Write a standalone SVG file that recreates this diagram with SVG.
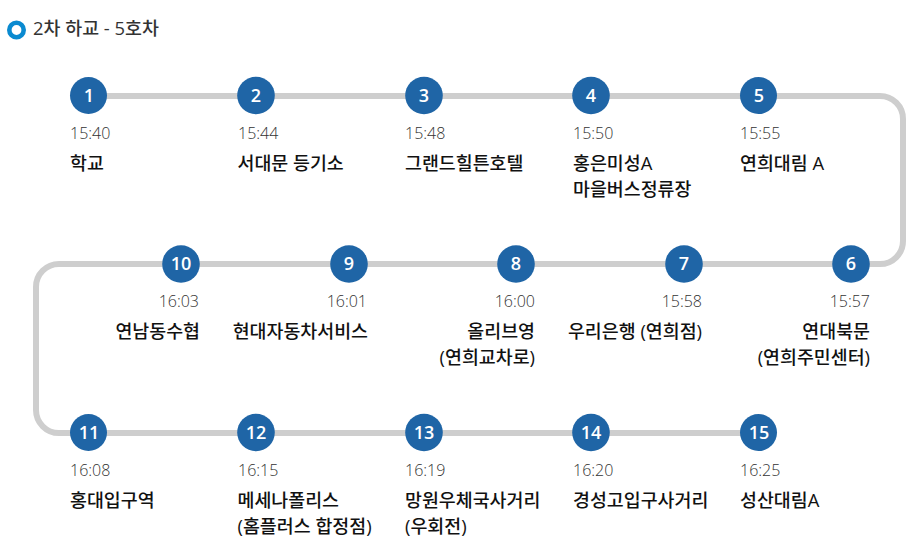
<svg xmlns="http://www.w3.org/2000/svg" width="920" height="551" viewBox="0 0 920 551">
<style>
text{font-family:"Open Sans","Noto Sans CJK KR",sans-serif}
.c{fill:#1f65a6}
.n{fill:#fff;font-size:18px;font-weight:600;text-anchor:middle}
.t{fill:#333;font-size:16px;font-weight:300}
.s{fill:#111;font-size:18.4px;font-weight:500}
.e{text-anchor:end}
</style>
<rect width="920" height="551" fill="#fff"/>
<g id="title"><circle cx="16.5" cy="30" r="7.2" fill="#fff" stroke="#0a8ad0" stroke-width="4.6"/><text x="33" y="35" style="fill:#333;font-size:18.4px;font-weight:500">2차 하교 - 5호차</text></g>
<g id="connectors"><path d="M89 96H880A23 23 0 0 1 903 119V241A23 23 0 0 1 880 264H59A23 23 0 0 0 36 287V410A23 23 0 0 0 59 433H759" fill="none" stroke="#cecece" stroke-width="6"/></g>
<g id="n1"><circle class="c" cx="88.5" cy="95.5" r="18.5"/><text class="n" x="89" y="102">1</text><text class="t" x="70" y="139">15:40</text><text class="s" x="70" y="170">학교</text></g>
<g id="n2"><circle class="c" cx="256" cy="95.5" r="18.8"/><text class="n" x="256" y="102">2</text><text class="t" x="238" y="139">15:44</text><text class="s" x="237.5" y="170">서대문 등기소</text></g>
<g id="n3"><circle class="c" cx="424" cy="95.5" r="18.8"/><text class="n" x="424" y="102">3</text><text class="t" x="405" y="139">15:48</text><text class="s" x="405" y="170">그랜드힐튼호텔</text></g>
<g id="n4"><circle class="c" cx="591" cy="95.5" r="18.8"/><text class="n" x="591" y="102">4</text><text class="t" x="573" y="139">15:50</text><text class="s" x="573" y="170">홍은미성A</text><text class="s" x="573" y="196">마을버스정류장</text></g>
<g id="n5"><circle class="c" cx="758.5" cy="95.5" r="18.5"/><text class="n" x="759" y="102">5</text><text class="t" x="740" y="139">15:55</text><text class="s" x="740" y="170">연희대림 A</text></g>
<g id="n6"><circle class="c" cx="851" cy="264" r="18.8"/><text class="n" x="851" y="270">6</text><text class="t e" x="870" y="307">15:57</text><text class="s e" x="870" y="338">연대북문</text><text class="s e" x="870" y="364">(연희주민센터)</text></g>
<g id="n7"><circle class="c" cx="684" cy="264" r="18.8"/><text class="n" x="684" y="270">7</text><text class="t e" x="702" y="307">15:58</text><text class="s e" x="702" y="338">우리은행 (연희점)</text></g>
<g id="n8"><circle class="c" cx="516" cy="264" r="18.8"/><text class="n" x="516" y="270">8</text><text class="t e" x="535" y="307">16:00</text><text class="s e" x="535" y="338">올리브영</text><text class="s e" x="535" y="364">(연희교차로)</text></g>
<g id="n9"><circle class="c" cx="349" cy="264" r="18.8"/><text class="n" x="349" y="270">9</text><text class="t e" x="367" y="307">16:01</text><text class="s e" x="368" y="338">현대자동차서비스</text></g>
<g id="n10"><circle class="c" cx="181" cy="264" r="18.8"/><text class="n" x="181" y="270">10</text><text class="t e" x="199" y="307">16:03</text><text class="s e" x="200" y="338">연남동수협</text></g>
<g id="n11"><circle class="c" cx="88.5" cy="432.5" r="18.5"/><text class="n" x="89" y="439">11</text><text class="t" x="70" y="476">16:08</text><text class="s" x="70" y="507">홍대입구역</text></g>
<g id="n12"><circle class="c" cx="256" cy="432.5" r="18.8"/><text class="n" x="256" y="439">12</text><text class="t" x="238" y="476">16:15</text><text class="s" x="237.5" y="507">메세나폴리스</text><text class="s" x="237.5" y="533">(홈플러스 합정점)</text></g>
<g id="n13"><circle class="c" cx="424" cy="432.5" r="18.8"/><text class="n" x="424" y="439">13</text><text class="t" x="405" y="476">16:19</text><text class="s" x="405" y="507">망원우체국사거리</text><text class="s" x="405" y="533">(우회전)</text></g>
<g id="n14"><circle class="c" cx="591" cy="432.5" r="18.8"/><text class="n" x="591" y="439">14</text><text class="t" x="573" y="476">16:20</text><text class="s" x="573" y="507">경성고입구사거리</text></g>
<g id="n15"><circle class="c" cx="758.5" cy="432.5" r="18.5"/><text class="n" x="759" y="439">15</text><text class="t" x="740" y="476">16:25</text><text class="s" x="740" y="507">성산대림A</text></g>
</svg>
